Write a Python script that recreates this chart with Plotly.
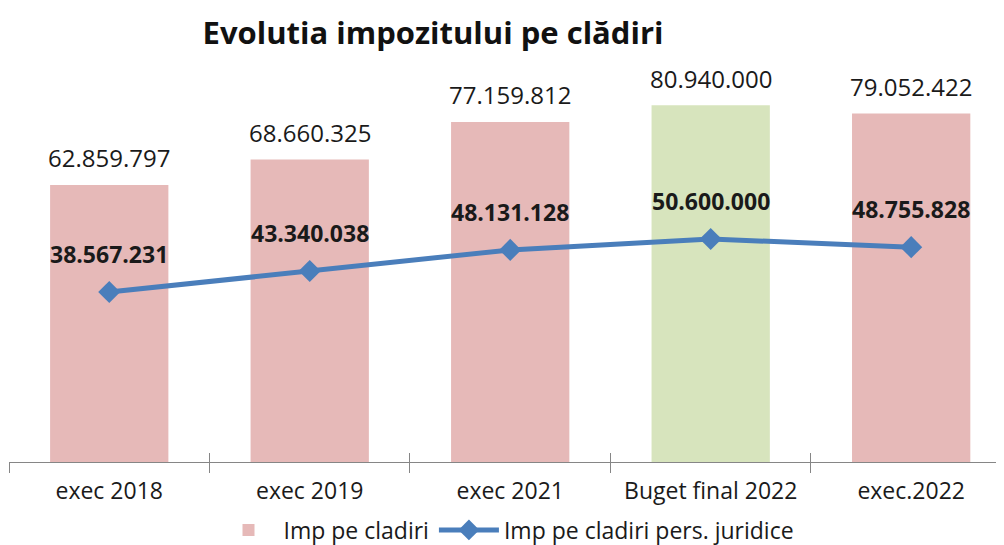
import plotly.graph_objects as go

categories = ["exec 2018", "exec 2019", "exec 2021", "Buget final 2022", "exec.2022"]
imp_cladiri = [62859797, 68660325, 77159812, 80940000, 79052422]
imp_juridice = [38567231, 43340038, 48131128, 50600000, 48755828]
bar_colors = ["#E6B9B8", "#E6B9B8", "#E6B9B8", "#D7E4BD", "#E6B9B8"]

def fmt(v):
    return f"{v:,}".replace(",", ".")

FONT = "Open Sans"
W, H = 996, 537  # page body has an 8px margin

fig = go.Figure()
fig.add_trace(go.Bar(
    x=categories, y=imp_cladiri, name="Imp pe cladiri",
    marker=dict(color=bar_colors, line=dict(width=0)),
    width=0.59,
))
fig.add_trace(go.Scatter(
    x=categories, y=imp_juridice, name="Imp pe cladiri pers. juridice",
    mode="lines+markers",
    line=dict(color="#4A7EBB", width=5),
    marker=dict(symbol="diamond", size=17, color="#4A7EBB"),
))
# invisible trace to carry the overlay axis for crossing ticks
fig.add_trace(go.Scatter(x=[2], y=[1e6], xaxis="x2", mode="markers",
                         marker=dict(opacity=0, size=1), showlegend=False, hoverinfo="skip"))

ann = []
for c, v in zip(categories, imp_cladiri):
    ann.append(dict(x=c, y=v, text=fmt(v), showarrow=False, yanchor="middle",
                    yshift=27, font=dict(family=FONT, size=24, color="#1a1a1a")))
for c, v in zip(categories, imp_juridice):
    ann.append(dict(x=c, y=v, text="<b>" + fmt(v) + "</b>", showarrow=False,
                    yanchor="middle", yshift=38,
                    font=dict(family=FONT, size=23, color="#1a1a1a")))

fig.update_layout(
    width=W, height=H,
    margin=dict(l=1, r=0, t=52, b=83, autoexpand=False),
    paper_bgcolor="white", plot_bgcolor="white",
    title=dict(text="<b>Evolutia impozitului pe clădiri</b>", x=425/W, xanchor="center",
               y=1-25/H, yanchor="middle",
               font=dict(family=FONT, size=31, color="#111111")),
    showlegend=True,
    legend=dict(orientation="h", x=0.5, xanchor="center", y=-0.169, yanchor="middle",
                font=dict(family=FONT, size=23, color="#1a1a1a"),
                traceorder="normal", itemwidth=60),
    annotations=ann,
    xaxis=dict(type="category", range=[-0.5, 4.463], showline=True, linecolor="#868686",
               linewidth=1, ticks="outside", tickson="boundaries", ticklen=10,
               tickcolor="#868686", showgrid=False, zeroline=False, automargin=False,
               ticklabelstandoff=8,
               tickfont=dict(family=FONT, size=23, color="#1a1a1a")),
    xaxis2=dict(overlaying="x", anchor="y", range=[-0.5, 4.463], showline=False,
                tickvals=[-0.5, 0.5, 1.5, 2.5, 3.5, 4.5], ticks="inside", ticklen=9,
                tickcolor="#868686", showticklabels=False, showgrid=False, zeroline=False,
                side="bottom", automargin=False),
    yaxis=dict(range=[0, 91.22e6], visible=False, showgrid=False, zeroline=False,
               automargin=False),
)

fig.write_html("out.html")
